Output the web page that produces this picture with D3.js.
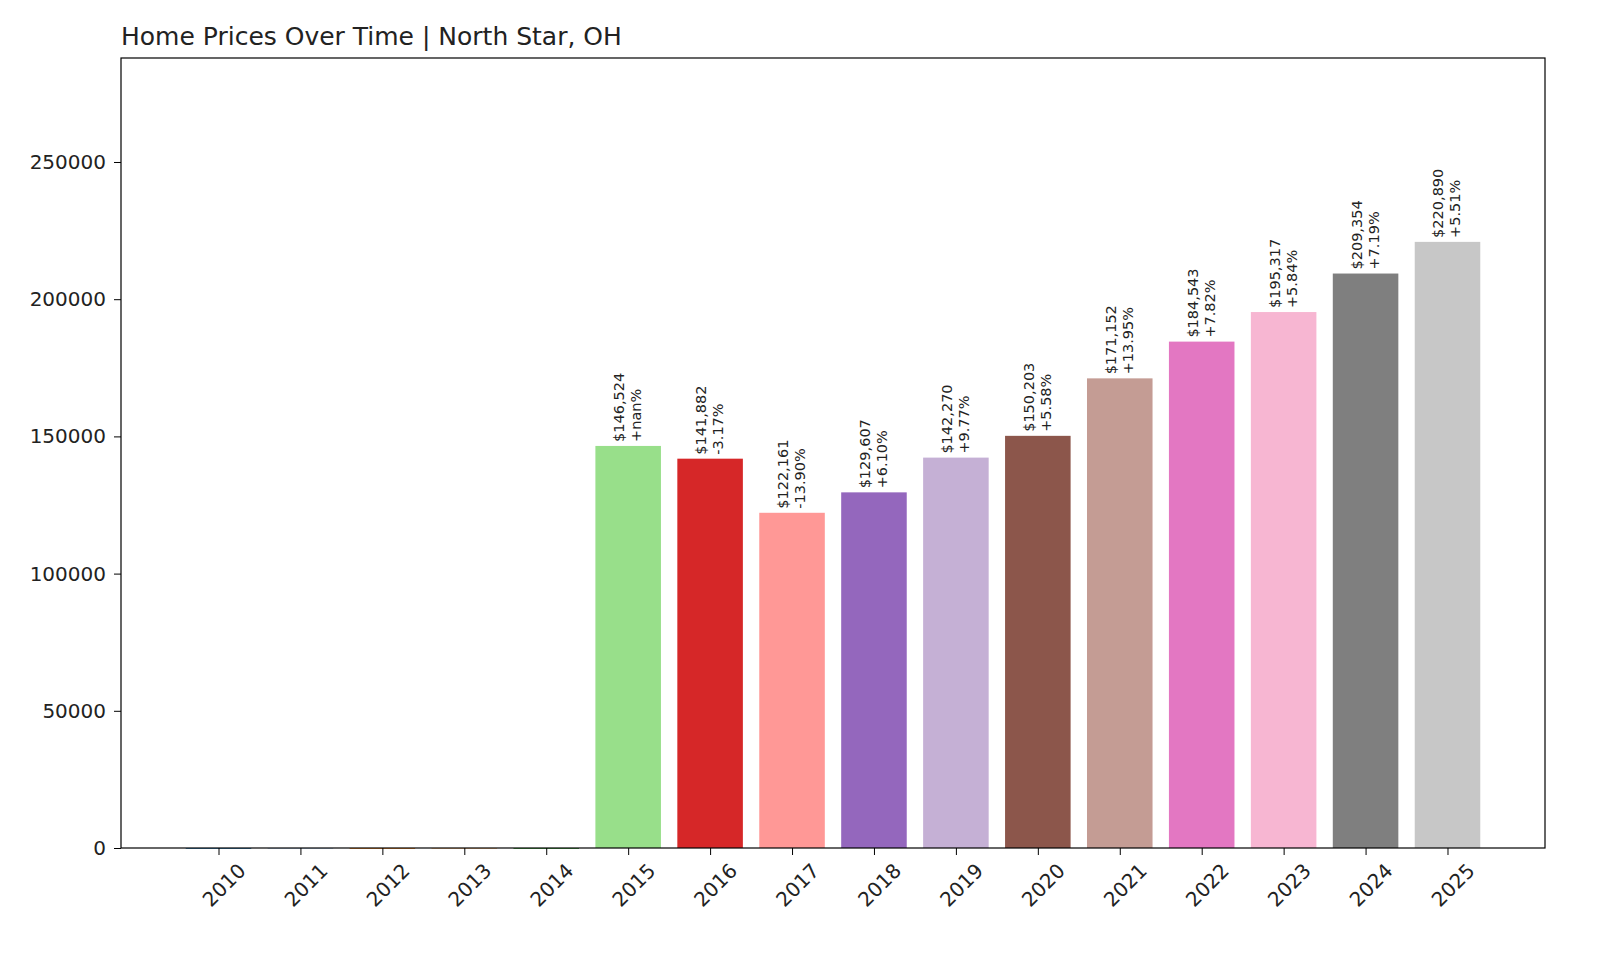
<!DOCTYPE html>
<html><head><meta charset="utf-8">
<script src="https://cdn.jsdelivr.net/npm/d3@7"></script>
<style>body{margin:0;background:#fff;font-family:"DejaVu Sans",sans-serif}</style>
</head><body>
<svg id="c" width="1600" height="960"></svg>
<script>
var years = ["2010","2011","2012","2013","2014","2015","2016","2017","2018","2019","2020","2021","2022","2023","2024","2025"];
var prices = [0,0,0,0,0,146524,141882,122161,129607,142270,150203,171152,184543,195317,209354,220890];
var changes = [null,null,null,null,null,"+nan%","-3.17%","-13.90%","+6.10%","+9.77%","+5.58%","+13.95%","+7.82%","+5.84%","+7.19%","+5.51%"];
var colors = ["#1f77b4","#aec7e8","#ff7f0e","#ffbb78","#2ca02c","#98df8a","#d62728","#ff9896","#9467bd","#c5b0d5","#8c564b","#c49c94","#e377c2","#f7b6d2","#7f7f7f","#c7c7c7"];
var yTicks = [0,50000,100000,150000,200000,250000];

var L=121,R=1545,T=58,B=848;
var svg=d3.select("#c");
var x=d3.scaleLinear().domain([-1.19,16.19]).range([L,R]);
var y=d3.scaleLinear().domain([0,287900]).range([B,T]);
var bw=x(0.8)-x(0);

svg.append("text").attr("x",L).attr("y",45).attr("font-size",25).attr("fill","#222").text("Home Prices Over Time | North Star, OH");

svg.selectAll("rect.bar").data(prices).enter().append("rect")
  .attr("x",function(d,i){return x(i)-bw/2;}).attr("width",bw)
  .attr("y",function(d){return y(d);}).attr("height",function(d){return Math.max(B-y(d),0.8);})
  .attr("fill",function(d,i){return colors[i];});

prices.forEach(function(p,i){
  if(!changes[i]) return;
  var g=svg.append("g").attr("transform","translate("+x(i)+","+(y(p)-4)+") rotate(-90)");
  g.append("text").attr("x",0).attr("y",-4).attr("font-size",14.5).attr("fill","#222").text("$"+d3.format(",")(p));
  g.append("text").attr("x",0).attr("y",13).attr("font-size",14.5).attr("fill","#222").text(changes[i]);
});

svg.append("rect").attr("x",L).attr("y",T).attr("width",R-L).attr("height",B-T).attr("fill","none").attr("stroke","#000").attr("stroke-width",1.2);

var ya=svg.append("g").attr("transform","translate("+L+",0)").call(d3.axisLeft(y).tickValues(yTicks).tickFormat(d3.format("d")).tickSize(7).tickPadding(8));
ya.select(".domain").remove();
ya.selectAll("text").attr("font-size",20).attr("font-family","DejaVu Sans").attr("fill","#222");

var xa=svg.append("g").attr("transform","translate(0,"+B+")").call(d3.axisBottom(x).tickValues(d3.range(16)).tickFormat(function(i){return years[i];}).tickSize(7));
xa.select(".domain").remove();
xa.selectAll("text").attr("font-size",20).attr("font-family","DejaVu Sans").attr("fill","#222")
  .attr("text-anchor","end").attr("transform","translate(16,12) rotate(-45)").attr("dy","0.35em").attr("y",10);
</script>
</body></html>
